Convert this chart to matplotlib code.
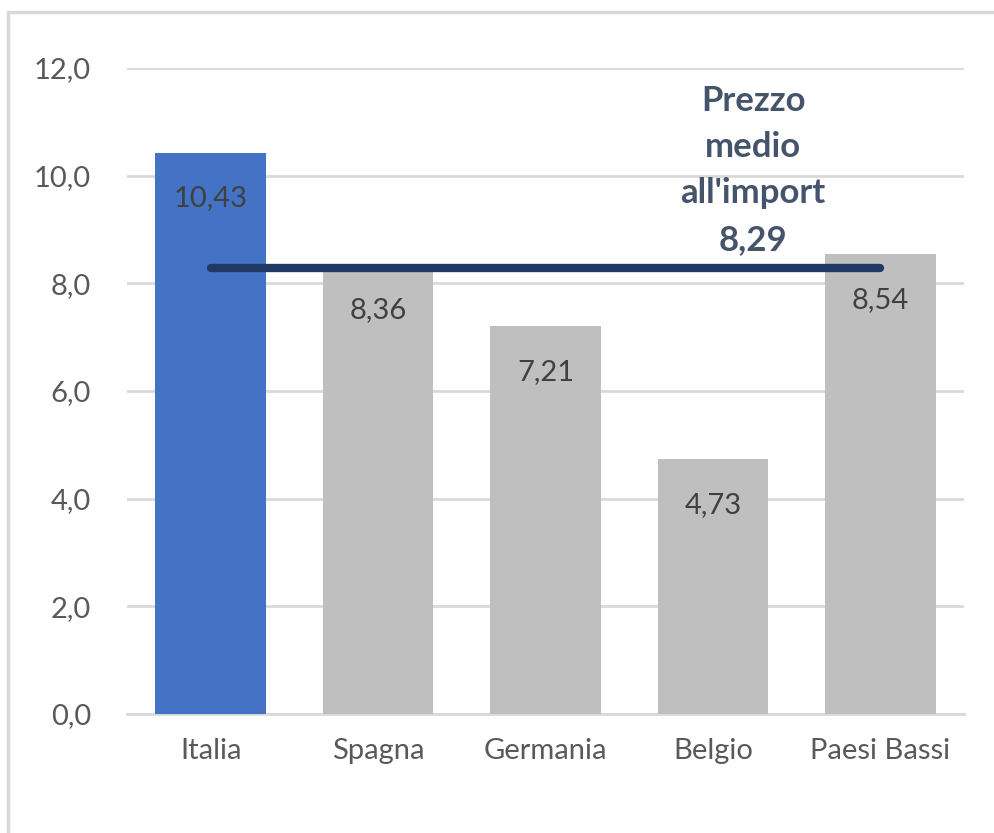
import matplotlib
matplotlib.use("Agg")
import matplotlib.pyplot as plt
from matplotlib.patches import Rectangle

# Data
paesi = ["Italia", "Spagna", "Germania", "Belgio", "Paesi Bassi"]
prezzi = [10.43, 8.36, 7.21, 4.73, 8.54]
prezzo_medio = 8.29
etichetta_media = "Prezzo\nmedio\nall'import\n8,29"
colori = ["#4472C4", "#BFBFBF", "#BFBFBF", "#BFBFBF", "#BFBFBF"]
yticks = [0, 2, 4, 6, 8, 10, 12]

plt.rcParams["font.family"] = ["Lato", "DejaVu Sans"]

fig = plt.figure(figsize=(9.95, 8.33), dpi=100)
fig.patches.append(Rectangle((8 / 995, -0.01), 1.0, 1 - 12 / 833 + 0.01,
                             transform=fig.transFigure, fill=False,
                             edgecolor="#D9D9D9", linewidth=2.5))

ax = fig.add_axes([127 / 995, 1 - 714 / 833, (964 - 127) / 995, (714 - 68) / 833])
x = list(range(len(paesi)))
ax.bar(x, prezzi, width=0.66, color=colori, zorder=2)

for xi, v in zip(x, prezzi):
    ax.text(xi, v - 0.85, f"{v:.2f}".replace(".", ","), ha="center", va="center",
            fontsize=21, color="#404040", zorder=4)

ax.plot([0, 4], [prezzo_medio, prezzo_medio], color="#203864", linewidth=6,
        solid_capstyle="round", zorder=3)
ax.text(3.24, 10.1, etichetta_media, ha="center", va="center", fontsize=25,
        fontweight="bold", color="#44546A", linespacing=1.55, zorder=4)

ax.set_xlim(-0.5, 4.5)
ax.set_ylim(0, 12)
ax.set_yticks(yticks)
ax.set_yticklabels([f"{t:.1f}".replace(".", ",") for t in yticks])
ax.set_xticks(x)
ax.set_xticklabels(paesi)
ax.tick_params(axis="both", length=0, labelsize=21, labelcolor="#595959")
ax.tick_params(axis="y", pad=26)
ax.tick_params(axis="x", pad=17)
ax.grid(axis="y", color="#D9D9D9", linewidth=2, zorder=0)
for s in ["top", "right", "left"]:
    ax.spines[s].set_visible(False)
ax.spines["bottom"].set_color("#D9D9D9")
ax.spines["bottom"].set_linewidth(2)
ax.spines["bottom"].set_zorder(1)

fig.savefig("out.png", dpi=100)
